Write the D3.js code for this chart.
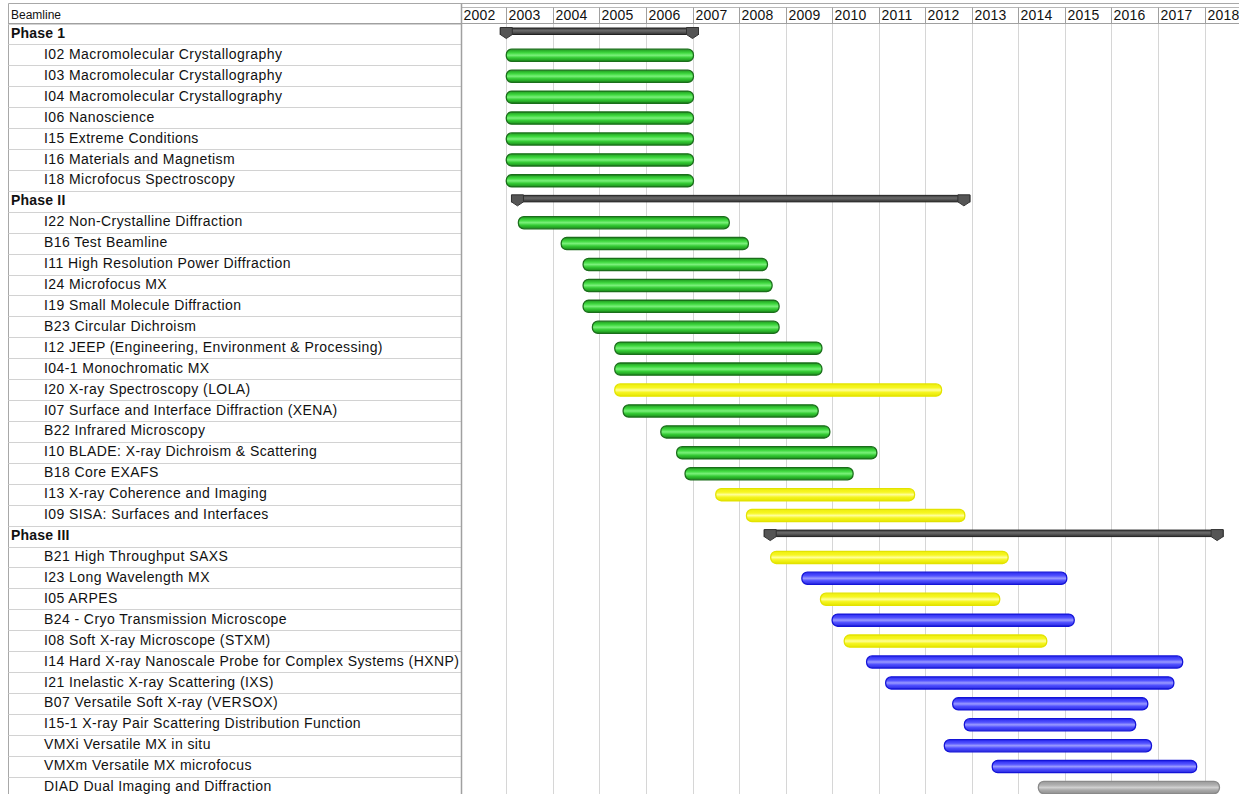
<!DOCTYPE html>
<html><head><meta charset="utf-8">
<script src="https://cdn.jsdelivr.net/npm/d3@7/dist/d3.min.js"></script>
<style>
html,body{margin:0;padding:0;background:#fff;overflow:hidden;}
svg{display:block;font-family:"Liberation Sans",Arial,sans-serif;}
</style></head>
<body>
<svg id="chart" width="1239" height="794"></svg>
<script>
const years = [2002,2003,2004,2005,2006,2007,2008,2009,2010,2011,2012,2013,2014,2015,2016,2017,2018];

const labels = [
  "Phase 1",
  "I02 Macromolecular Crystallography",
  "I03 Macromolecular Crystallography",
  "I04 Macromolecular Crystallography",
  "I06 Nanoscience",
  "I15 Extreme Conditions",
  "I16 Materials and Magnetism",
  "I18 Microfocus Spectroscopy",
  "Phase II",
  "I22 Non-Crystalline Diffraction",
  "B16 Test Beamline",
  "I11 High Resolution Power Diffraction",
  "I24 Microfocus MX",
  "I19 Small Molecule Diffraction",
  "B23 Circular Dichroism",
  "I12 JEEP (Engineering, Environment & Processing)",
  "I04-1 Monochromatic MX",
  "I20 X-ray Spectroscopy (LOLA)",
  "I07 Surface and Interface Diffraction (XENA)",
  "B22 Infrared Microscopy",
  "I10 BLADE: X-ray Dichroism & Scattering",
  "B18 Core EXAFS",
  "I13 X-ray Coherence and Imaging",
  "I09 SISA: Surfaces and Interfaces",
  "Phase III",
  "B21 High Throughput SAXS",
  "I23 Long Wavelength MX",
  "I05 ARPES",
  "B24 - Cryo Transmission Microscope",
  "I08 Soft X-ray Microscope (STXM)",
  "I14 Hard X-ray Nanoscale Probe for Complex Systems (HXNP)",
  "I21 Inelastic X-ray Scattering (IXS)",
  "B07 Versatile Soft X-ray (VERSOX)",
  "I15-1 X-ray Pair Scattering Distribution Function",
  "VMXi Versatile MX in situ",
  "VMXm Versatile MX microfocus",
  "DIAD Dual Imaging and Diffraction"
];

const kinds = [
  "summary","green","green","green","green","green","green","green",
  "summary","green","green","green","green","green","green","green","green","yellow","green","green","green","green","yellow","yellow",
  "summary","yellow","blue","yellow","blue","yellow","blue","blue","blue","blue","blue","blue","grey"
];

const starts = [
  2003.0, 2003.0, 2003.0, 2003.0, 2003.0, 2003.0, 2003.0, 2003.0,
  2003.24, 2003.26, 2004.18, 2004.65, 2004.65, 2004.65, 2004.85, 2005.33, 2005.33, 2005.33, 2005.51, 2006.32, 2006.66, 2006.84, 2007.50, 2008.16,
  2008.67, 2008.68, 2009.35, 2009.75, 2010.00, 2010.26, 2010.74, 2011.15, 2012.59, 2012.84, 2012.41, 2013.44, 2014.43
];

const ends = [
  2007.0, 2007.02, 2007.02, 2007.02, 2007.02, 2007.02, 2007.02, 2007.02,
  2012.83, 2007.79, 2008.20, 2008.61, 2008.71, 2008.86, 2008.86, 2009.78, 2009.78, 2012.35, 2009.70, 2009.95, 2010.96, 2010.45, 2011.77, 2012.85,
  2018.27, 2013.78, 2015.04, 2013.60, 2015.20, 2014.61, 2017.53, 2017.34, 2016.78, 2016.52, 2016.86, 2017.83, 2018.32
];

const rows = labels.map((l,i)=>({label:l, kind:kinds[i], start:starts[i], end:ends[i], i}));

const W = 1239, H = 794;
const svg = d3.select("#chart");
const leftX = 8.5, splitX = 461.5;
const headTop = 3.5, headBot = 23.5;
const rowH = 20.92;

const x = d3.scaleLinear().domain([2003, 2018]).range([506.3, 1204.55]);
const y = d3.scaleLinear().domain([0, 1]).range([headBot, headBot + rowH]);

// gradients
const defs = svg.append("defs");
const palettes = {
  green:  {stroke:"#1b6e1b", stops:[["0%","#1f9a1f"],["30%","#3fd93f"],["50%","#7af07a"],["70%","#35cc35"],["100%","#1a8a1a"]]},
  yellow: {stroke:"#e3e300", stops:[["0%","#eded10"],["30%","#f7f722"],["50%","#ffff9a"],["70%","#f5f520"],["100%","#e6e600"]]},
  blue:   {stroke:"#1414d8", stops:[["0%","#2a2af0"],["30%","#5252ff"],["50%","#9a9aff"],["70%","#5050ff"],["100%","#2828e0"]]},
  grey:   {stroke:"#8a8a8a", stops:[["0%","#9a9a9a"],["30%","#b0b0b0"],["50%","#d0d0d0"],["70%","#ababab"],["100%","#909090"]]},
  summary:{stroke:"#2a2a2a", stops:[["0%","#3a3a3a"],["40%","#6a6a6a"],["60%","#5a5a5a"],["100%","#2f2f2f"]]}
};
Object.entries(palettes).forEach(([k,p])=>{
  const g = defs.append("linearGradient").attr("id","g-"+k).attr("x1",0).attr("y1",0).attr("x2",0).attr("y2",1);
  p.stops.forEach(s=>g.append("stop").attr("offset",s[0]).attr("stop-color",s[1]));
});

// frame
svg.append("line").attr("x1",leftX).attr("x2",W).attr("y1",headTop).attr("y2",headTop).attr("stroke","#a8a8a8");
svg.append("line").attr("x1",splitX).attr("x2",W).attr("y1",7.5).attr("y2",7.5).attr("stroke","#b8b8b8");
svg.append("line").attr("x1",leftX).attr("x2",leftX).attr("y1",headTop).attr("y2",H).attr("stroke","#a8a8a8");

// label column row separators
svg.append("g").selectAll("line").data(d3.range(rows.length+1)).join("line")
  .attr("x1",leftX).attr("x2",splitX)
  .attr("y1",d=>Math.round(y(d))+0.5).attr("y2",d=>Math.round(y(d))+0.5)
  .attr("stroke","#d2d2d2");

// vertical grid lines in chart area
svg.append("g").selectAll("line").data(years.filter(v=>v>2002)).join("line")
  .attr("x1",d=>Math.round(x(d))+0.5).attr("x2",d=>Math.round(x(d))+0.5)
  .attr("y1",headBot).attr("y2",H)
  .attr("stroke","#d6d6d6");

// header separators
svg.append("g").selectAll("line").data(years.filter(v=>v>2002)).join("line")
  .attr("x1",d=>Math.round(x(d))+0.5).attr("x2",d=>Math.round(x(d))+0.5)
  .attr("y1",7.5).attr("y2",headBot)
  .attr("stroke","#a0a0a0");
svg.append("line").attr("x1",leftX).attr("x2",W).attr("y1",headBot).attr("y2",headBot).attr("stroke","#a0a0a0");
svg.append("line").attr("x1",splitX).attr("x2",splitX).attr("y1",headTop).attr("y2",H).attr("stroke","#a0a0a0").attr("stroke-width",1.5);

// header text
svg.append("text").attr("x",11).attr("y",18.5).attr("font-size",12).attr("fill","#111").text("Beamline");
svg.append("g").selectAll("text").data(years).join("text")
  .attr("x",d=> d===2002 ? splitX+2 : Math.round(x(d))+2.5)
  .attr("y",20).attr("font-size",14).attr("letter-spacing",0.2).attr("fill","#111").text(d=>d);

// row labels
svg.append("g").selectAll("text").data(rows).join("text")
  .attr("x",d=>d.kind==="summary"?11:44)
  .attr("y",d=>y(d.i)+14.5)
  .attr("font-size",14)
  .attr("letter-spacing",d=>d.kind==="summary"?0.2:0.42)
  .attr("font-weight",d=>d.kind==="summary"?"bold":"normal")
  .attr("fill","#111")
  .text(d=>d.label);

// task bars
const bars = svg.append("g");
bars.selectAll("rect").data(rows.filter(d=>d.kind!=="summary")).join("rect")
  .attr("x",d=>x(d.start))
  .attr("width",d=>x(d.end)-x(d.start))
  .attr("y",d=>y(d.i)+4.8)
  .attr("height",12.2)
  .attr("rx",5.5).attr("ry",5.5)
  .attr("fill",d=>`url(#g-${d.kind})`)
  .attr("stroke",d=>palettes[d.kind].stroke)
  .attr("stroke-width",1.3);

// summary bars
const sums = rows.filter(d=>d.kind==="summary");
const sg = svg.append("g");
sg.selectAll("rect").data(sums).join("rect")
  .attr("x",d=>x(d.start)-6)
  .attr("width",d=>x(d.end)-x(d.start)+12)
  .attr("y",d=>y(d.i)+4.5)
  .attr("height",6.5)
  .attr("fill","url(#g-summary)")
  .attr("stroke","#222").attr("stroke-width",1);
const cap = (cx, top) => `M${cx-6},${top} L${cx+6},${top} L${cx+6},${top+7} L${cx},${top+11} L${cx-6},${top+7} Z`;
sums.forEach(d=>{
  [d.start,d.end].forEach(v=>{
    sg.append("path").attr("d",cap(x(v), y(d.i)+4))
      .attr("fill","#555").attr("stroke","#333").attr("stroke-width",1).attr("stroke-linejoin","round");
  });
});
</script>
</body></html>
